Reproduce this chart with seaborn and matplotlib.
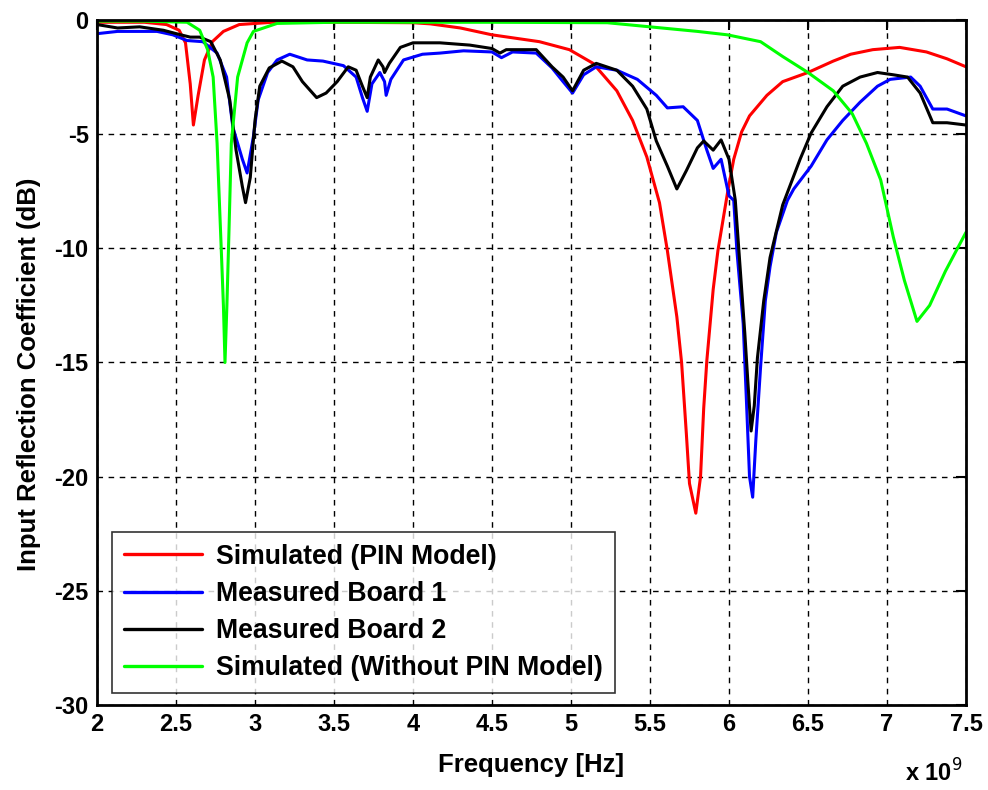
import matplotlib
matplotlib.use("Agg")
import matplotlib.pyplot as plt
from matplotlib import font_manager
import pandas as pd
import seaborn as sns

# Frequency axis in GHz (labelled as x 10^9 Hz), reflection coefficient in dB
freq_pin = [2.0, 2.3, 2.44, 2.52, 2.56, 2.59, 2.61, 2.64, 2.68, 2.73,
            2.80, 2.90, 3.11, 3.5, 4.0, 4.11, 4.3, 4.5, 4.8, 4.99,
            5.14, 5.29, 5.39, 5.48, 5.56, 5.61, 5.67, 5.70, 5.73, 5.75,
            5.79, 5.82, 5.84, 5.86, 5.90, 5.93, 5.99, 6.03, 6.08, 6.13,
            6.24, 6.34, 6.5, 6.66, 6.77, 6.91, 7.08, 7.25, 7.38, 7.5]
s11_pin = [-0.1, -0.1, -0.2, -0.45, -1.0, -2.8, -4.6, -3.3, -1.75, -0.95,
           -0.5, -0.2, -0.1, -0.1, -0.12, -0.17, -0.35, -0.65, -0.95, -1.3,
           -1.9, -3.1, -4.4, -6.0, -8.0, -10.1, -13.0, -15.0, -18.1, -20.3,
           -21.6, -20.0, -17.0, -14.9, -11.8, -10.1, -7.6, -6.1, -4.9, -4.2,
           -3.3, -2.7, -2.3, -1.8, -1.5, -1.3, -1.2, -1.4, -1.7, -2.05]

freq_b1 = [2.0, 2.13, 2.38, 2.48, 2.57, 2.67, 2.76, 2.82, 2.86, 2.92,
           2.95, 2.99, 3.02, 3.08, 3.14, 3.22, 3.33, 3.43, 3.56, 3.64,
           3.68, 3.71, 3.74, 3.79, 3.82, 3.83, 3.86, 3.94, 4.06, 4.17,
           4.32, 4.5, 4.56, 4.63, 4.78, 4.88, 4.95, 5.01, 5.08, 5.16,
           5.29, 5.42, 5.54, 5.61, 5.71, 5.80, 5.86, 5.90, 5.95, 6.0,
           6.03, 6.05, 6.09, 6.11, 6.13, 6.15, 6.17, 6.20, 6.23, 6.26,
           6.30, 6.37, 6.41, 6.52, 6.62, 6.72, 6.83, 6.94, 7.02, 7.15,
           7.21, 7.29, 7.38, 7.5]
s11_b1 = [-0.6, -0.5, -0.5, -0.65, -0.9, -0.95, -1.45, -2.5, -4.7, -6.1,
          -6.7, -5.1, -3.5, -2.3, -1.75, -1.5, -1.75, -1.8, -2.0, -2.5,
          -3.4, -4.0, -2.8, -2.3, -2.7, -3.3, -2.6, -1.75, -1.5, -1.45,
          -1.35, -1.4, -1.65, -1.4, -1.45, -2.1, -2.7, -3.2, -2.4, -2.05,
          -2.2, -2.6, -3.3, -3.85, -3.8, -4.4, -5.7, -6.5, -6.1, -7.7,
          -7.9, -10.1, -13.3, -16.6, -20.0, -20.9, -18.4, -15.2, -12.3, -10.8,
          -9.3, -7.9, -7.4, -6.4, -5.25, -4.4, -3.6, -2.9, -2.6, -2.5,
          -2.9, -3.9, -3.9, -4.2]

freq_b2 = [2.0, 2.13, 2.27, 2.42, 2.53, 2.59, 2.65, 2.72, 2.78, 2.84,
           2.88, 2.92, 2.94, 2.97, 3.0, 3.03, 3.09, 3.17, 3.24, 3.30,
           3.39, 3.45, 3.52, 3.59, 3.64, 3.68, 3.71, 3.73, 3.78, 3.81,
           3.82, 3.85, 3.92, 4.0, 4.17, 4.36, 4.5, 4.55, 4.59, 4.78,
           4.88, 4.95, 5.01, 5.08, 5.16, 5.29, 5.39, 5.48, 5.54, 5.61,
           5.67, 5.73, 5.80, 5.84, 5.90, 5.95, 6.0, 6.04, 6.07, 6.10,
           6.12, 6.14, 6.16, 6.18, 6.22, 6.26, 6.34, 6.45, 6.52, 6.62,
           6.72, 6.83, 6.94, 7.04, 7.13, 7.21, 7.29, 7.38, 7.5]
s11_b2 = [-0.2, -0.35, -0.3, -0.45, -0.65, -0.75, -0.75, -0.95, -1.75, -3.5,
          -5.7, -7.3, -8.0, -6.9, -4.4, -2.9, -2.1, -1.8, -2.05, -2.7,
          -3.4, -3.2, -2.7, -2.05, -2.2, -2.9, -3.4, -2.5, -1.75, -2.05,
          -2.3, -1.9, -1.2, -1.0, -1.0, -1.1, -1.25, -1.45, -1.3, -1.3,
          -2.05, -2.5, -3.1, -2.2, -1.9, -2.2, -2.9, -3.9, -5.3, -6.4,
          -7.4, -6.6, -5.6, -5.3, -5.7, -5.25, -6.1, -7.9, -10.8, -13.7,
          -15.9, -18.0, -16.9, -14.8, -12.3, -10.4, -8.1, -6.1, -4.95, -3.8,
          -2.9, -2.5, -2.3, -2.4, -2.5, -3.2, -4.5, -4.5, -4.6]

freq_nopin = [2.0, 2.3, 2.57, 2.65, 2.70, 2.735, 2.76, 2.785, 2.80, 2.81,
              2.822, 2.835, 2.85, 2.89, 2.95, 2.99, 3.14, 3.5, 4.5, 5.23,
              5.5, 5.8, 5.99, 6.2, 6.34, 6.5, 6.66, 6.78, 6.87, 6.96,
              7.04, 7.11, 7.19, 7.27, 7.37, 7.5]
s11_nopin = [-0.05, -0.05, -0.1, -0.45, -1.3, -2.5, -5.4, -9.8, -12.5, -15.0,
             -12.5, -9.3, -5.4, -2.5, -1.0, -0.5, -0.15, -0.1, -0.1, -0.12,
             -0.3, -0.5, -0.65, -0.95, -1.6, -2.3, -3.1, -4.1, -5.4, -7.0,
             -9.5, -11.4, -13.2, -12.5, -11.0, -9.3]

series_names = ["Simulated (PIN Model)", "Measured Board 1",
                "Measured Board 2", "Simulated (Without PIN Model)"]
series_colors = ["#ff0000", "#0000ff", "#000000", "#00ff00"]

x_ticks = [2, 2.5, 3, 3.5, 4, 4.5, 5, 5.5, 6, 6.5, 7, 7.5]
x_tick_labels = ["2", "2.5", "3", "3.5", "4", "4.5", "5", "5.5", "6", "6.5", "7", "7.5"]
y_ticks = [-30, -25, -20, -15, -10, -5, 0]
y_tick_labels = ["-30", "-25", "-20", "-15", "-10", "-5", "0"]

frames = []
for name, f, s in zip(series_names,
                      [freq_pin, freq_b1, freq_b2, freq_nopin],
                      [s11_pin, s11_b1, s11_b2, s11_nopin]):
    frames.append(pd.DataFrame({"freq": f, "s11": s, "series": name}))
df = pd.concat(frames, ignore_index=True)

sns.set_theme(style="white")
installed = {f.name for f in font_manager.fontManager.ttflist}
narrow = "Liberation Sans Narrow" if "Liberation Sans Narrow" in installed else "Liberation Sans"
plt.rcParams["font.family"] = ["Liberation Sans", "DejaVu Sans"]
plt.rcParams["text.color"] = "black"
plt.rcParams["axes.labelcolor"] = "black"
plt.rcParams["xtick.color"] = "black"
plt.rcParams["ytick.color"] = "black"

fig = plt.figure(figsize=(9.88, 7.9), dpi=100)
ax = fig.add_axes([0.0982, 0.1076, 0.8795, 0.8671])

sns.lineplot(data=df, x="freq", y="s11", hue="series", hue_order=series_names,
             palette=series_colors, sort=False, estimator=None,
             linewidth=2.2, ax=ax)

ax.set_xlim(2, 7.5)
ax.set_ylim(-30, 0)
ax.set_xticks(x_ticks)
ax.set_xticklabels(x_tick_labels)
ax.set_yticks(y_ticks)
ax.set_yticklabels(y_tick_labels)
for lab in ax.get_xticklabels() + ax.get_yticklabels():
    lab.set_fontfamily(narrow)
    lab.set_fontweight("bold")
    lab.set_fontsize(17)
    lab.set_color("black")

ax.grid(True, color="black", linestyle=(0, (4, 4)), linewidth=1.0)
ax.tick_params(direction="in", length=7, width=1.5, top=True, right=True,
               colors="black", pad=6)
for sp in ax.spines.values():
    sp.set_visible(True)
    sp.set_color("black")
    sp.set_linewidth(2.0)

ax.set_xlabel("Frequency [Hz]", fontsize=18.5, fontweight="bold", labelpad=12,
              color="black")
ax.set_ylabel("Input Reflection Coefficient (dB)", fontsize=18.5,
              fontweight="bold", labelpad=8, color="black")
ax.yaxis.set_label_coords(-0.064, 0.483)
fig.text(0.916, 0.004, r"x 10$^{9}$", fontsize=17, fontweight="bold",
         fontfamily=narrow, ha="left", va="bottom", color="black")

leg = ax.legend(loc="lower left", bbox_to_anchor=(0.017, 0.017),
                prop={"weight": "bold", "size": 19.2}, frameon=True,
                fancybox=False, handlelength=2.95, labelspacing=0.42,
                borderpad=0.45, handletextpad=0.5, borderaxespad=0.0)
leg.get_frame().set_edgecolor("black")
leg.get_frame().set_linewidth(1.2)
for text in leg.get_texts():
    text.set_color("black")
for line in leg.get_lines():
    line.set_linewidth(2.4)

fig.savefig("out.png", dpi=100, facecolor="white")
